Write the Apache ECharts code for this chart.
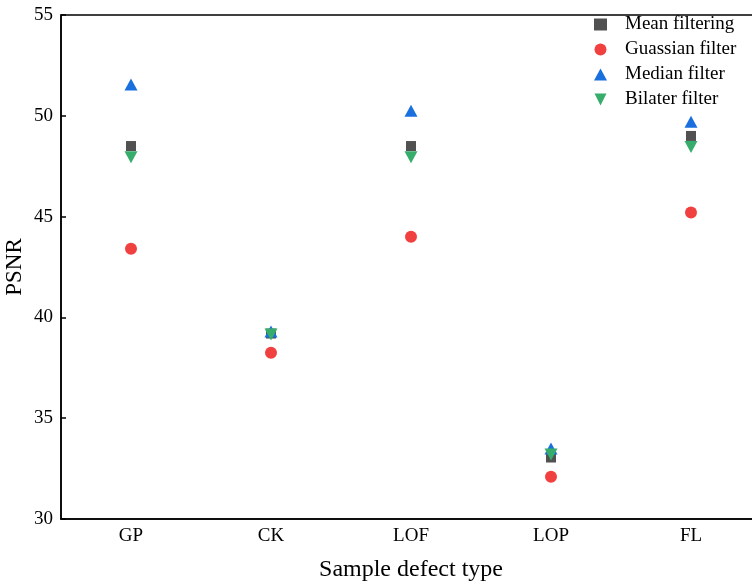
<!DOCTYPE html>
<html lang="en">
<head>
    <meta charset="UTF-8">
    <title>PSNR by defect type</title>
    <script src="https://cdn.jsdelivr.net/npm/echarts@6/dist/echarts.min.js"></script>
    <style>
        html, body { margin: 0; padding: 0; background: #fff; }
        #chart { width: 752px; height: 585px; }
    </style>
</head>
<body>
<div id="chart"></div>
<script>
    // defect types along x
    var categories = ['GP', 'CK', 'LOF', 'LOP', 'FL'];
    // PSNR
    var meanFiltering = [48.5, 39.2, 48.5, 33.05, 49.0];
    var guassianFilter = [43.4, 38.25, 44.0, 32.1, 45.2];
    var medianFilter = [51.55, 39.3, 50.25, 33.5, 49.7];
    var bilaterFilter = [47.95, 39.15, 47.95, 33.2, 48.45];
    var yTicks = [30, 35, 40, 45, 50, 55];

    var font = '"Liberation Serif", "Times New Roman", serif';
    var downTri = 'path://M0,0L10,0L5,10Z';

    var chart = echarts.init(document.getElementById('chart'));

    function serie(name, data, symbol, size, color) {
        return {
            name: name,
            type: 'scatter',
            data: data,
            symbol: symbol,
            symbolSize: size,
            itemStyle: { color: color, opacity: 1 },
            emphasis: { disabled: true }
        };
    }

    var option = {
        animation: false,
        backgroundColor: '#fff',
        textStyle: { fontFamily: font },
        grid: {
            left: 61,
            top: 15,
            width: 700,
            height: 504,
            outerBoundsMode: 'none',
            show: true,
            borderColor: '#000',
            borderWidth: 1.5,
            backgroundColor: 'transparent'
        },
        legend: {
            orient: 'vertical',
            left: 589,
            top: 10,
            itemWidth: 13,
            itemHeight: 12,
            itemGap: 6,
            textStyle: { fontFamily: font, fontSize: 19, color: '#000', padding: [0, 0, 0, 13] },
            data: [
                { name: 'Mean filtering', icon: 'rect' },
                { name: 'Guassian filter', icon: 'circle' },
                { name: 'Median filter', icon: 'triangle' },
                { name: 'Bilater filter', icon: downTri }
            ]
        },
        xAxis: {
            type: 'category',
            data: categories,
            boundaryGap: true,
            name: 'Sample defect type',
            nameLocation: 'middle',
            nameGap: 39,
            nameMoveOverlap: false,
            nameTextStyle: { fontFamily: font, fontSize: 24, color: '#000' },
            axisLine: { lineStyle: { color: '#000', width: 1.5 } },
            axisTick: { inside: true, length: 5, alignWithLabel: true, lineStyle: { color: '#000', width: 1.5 } },
            axisLabel: { fontFamily: font, fontSize: 19, color: '#000', margin: 8 },
            splitLine: { show: false }
        },
        yAxis: {
            type: 'value',
            min: yTicks[0],
            max: yTicks[yTicks.length - 1],
            interval: 5,
            name: 'PSNR',
            nameLocation: 'middle',
            nameGap: 35,
            nameMoveOverlap: false,
            nameTextStyle: { fontFamily: font, fontSize: 23, color: '#000' },
            axisLine: { show: true, lineStyle: { color: '#000', width: 1.5 } },
            axisTick: { show: true, inside: true, length: 5, lineStyle: { color: '#000', width: 1.5 } },
            axisLabel: { fontFamily: font, fontSize: 19, color: '#000', margin: 8 },
            splitLine: { show: false }
        },
        series: [
            serie('Mean filtering', meanFiltering, 'rect', 10, '#515151'),
            serie('Guassian filter', guassianFilter, 'circle', 12, '#F14040'),
            serie('Median filter', medianFilter, 'triangle', [13, 12], '#1A6FDF'),
            serie('Bilater filter', bilaterFilter, downTri, [13, 12], '#37AD6B')
        ]
    };

    chart.setOption(option);
</script>
</body>
</html>
